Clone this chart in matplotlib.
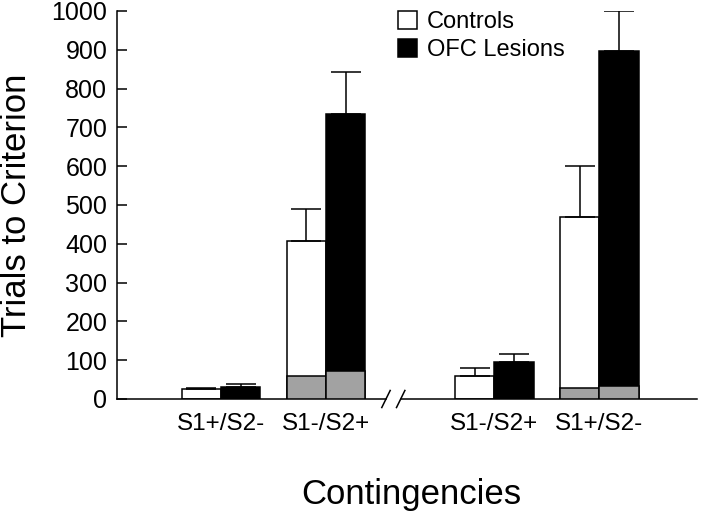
import matplotlib
matplotlib.use("Agg")
import matplotlib.pyplot as plt
from matplotlib.patches import Patch
import matplotlib.transforms as mtransforms

plt.rcParams['font.family'] = ['Liberation Sans', 'DejaVu Sans']

categories = ["S1+/S2-", "S1-/S2+", "S1-/S2+", "S1+/S2-"]
positions = [0.0, 1.0, 2.6, 3.6]
controls = [26, 407, 60, 469]
controls_err = [2, 82, 20, 131]
lesions = [30, 734, 95, 898]
lesions_err = [8, 108, 22, 102]
controls_gray = [0, 59, 0, 28]
lesions_gray = [0, 72, 0, 33]
yticks = [0, 100, 200, 300, 400, 500, 600, 700, 800, 900, 1000]

fig = plt.figure(figsize=(7.06, 5.13), dpi=100)
ax = fig.add_axes([117/706, 1 - 399/513, 580/706, 388/513])

w = 0.375
xc = [p - w/2 for p in positions]
xl = [p + w/2 for p in positions]
ekw = dict(elinewidth=1.1, capthick=1.1, ecolor='black')
ax.bar(xc, controls, width=w, color='white', edgecolor='black', linewidth=1.1,
       yerr=[[0]*4, controls_err], capsize=11, error_kw=ekw, label='Controls', zorder=2)
ax.bar(xl, lesions, width=w, color='black', edgecolor='black', linewidth=1.1,
       yerr=[[0]*4, lesions_err], capsize=11, error_kw=ekw, label='OFC Lesions', zorder=2)
for x, g in zip(xc, controls_gray):
    if g > 0:
        ax.bar(x, g, width=w, color='#a2a2a2', edgecolor='black', linewidth=1.1, zorder=3)
for x, g in zip(xl, lesions_gray):
    if g > 0:
        ax.bar(x, g, width=w, color='#a2a2a2', edgecolor='black', linewidth=1.1, zorder=3)

ax.set_ylim(0, 1000)
ax.set_xlim(-0.99, 4.53)
ax.set_yticks(yticks)
ax.set_yticklabels([str(v) for v in yticks], fontsize=18)
ax.tick_params(axis='y', direction='in', length=7, width=1.1, pad=7)
ax.set_xticks(positions)
ax.set_xticklabels(categories, fontsize=17.5)
ax.tick_params(axis='x', length=0, pad=10)

for s in ['top', 'right', 'bottom']:
    ax.spines[s].set_visible(False)
ax.spines['left'].set_linewidth(1.1)

# broken bottom axis
trans = mtransforms.blended_transform_factory(ax.transData, ax.transAxes)
b0, b1 = 1.57, 1.71
ax.plot([-0.99, b0], [0, 0], color='black', lw=1.1, transform=trans, clip_on=False)
ax.plot([b1, 4.53], [0, 0], color='black', lw=1.1, transform=trans, clip_on=False)
for bx in (b0, b1):
    ax.plot([bx - 0.04, bx + 0.04], [-0.022, 0.022], color='black', lw=1.1,
            transform=trans, clip_on=False)

ax.set_ylabel('Trials to Criterion', fontsize=25, labelpad=13)
ax.set_xlabel('Contingencies', fontsize=25)
ax.xaxis.set_label_coords(0.508, -0.203)

handles = [Patch(facecolor='white', edgecolor='black', linewidth=1.1, label='Controls'),
           Patch(facecolor='black', edgecolor='black', linewidth=1.1, label='OFC Lesions')]
ax.legend(handles=handles, loc='upper left', bbox_to_anchor=(0.484, 1.0), frameon=False,
          fontsize=17, handlelength=0.8, handleheight=0.8, handletextpad=0.45,
          labelspacing=0.25, borderaxespad=0, borderpad=0)

fig.savefig('out.png', dpi=100)
